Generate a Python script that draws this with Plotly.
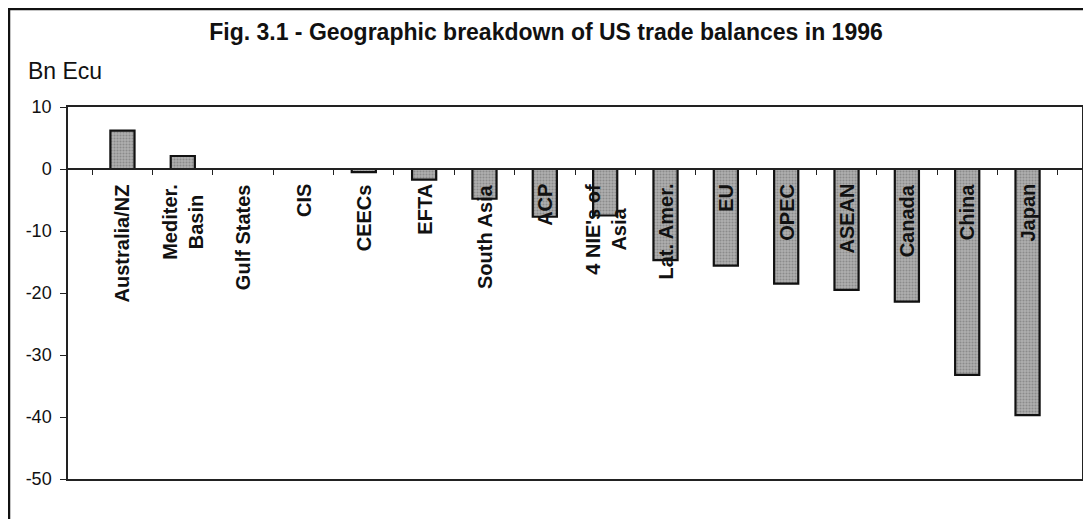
import plotly.graph_objects as go

categories = ["Australia/NZ", "Mediter.<br>Basin", "Gulf States", "CIS", "CEECs", "EFTA",
              "South Asia", "ACP", "4 NIE's of<br>Asia", "Lat. Amer.", "EU", "OPEC",
              "ASEAN", "Canada", "China", "Japan"]
values = [6.2, 2.1, 0.0, 0.0, -0.5, -1.7, -4.8, -7.7, -7.5, -14.7, -15.6, -18.5,
          -19.5, -21.4, -33.2, -39.7]
y_ticks = [10, 0, -10, -20, -30, -40, -50]
title_text = "Fig. 3.1 - Geographic breakdown of US trade balances in 1996"
y_unit = "Bn Ecu"

W, H = 1091, 519
OFF = 8  # page body margin: screen position = figure position + OFF
# plot area in screen pixels
SX0, SX1, SY0, SY1 = 68, 1082, 107, 479
L, R, T, B = SX0 - OFF, W - (SX1 - OFF), SY0 - OFF, H - (SY1 - OFF)
pw, ph = SX1 - SX0, SY1 - SY0

def px_x(p):
    return (p - SX0) / pw

def px_y(p):
    return (SY1 - p) / ph

FONT = "Liberation Sans, Arial, sans-serif"

fig = go.Figure()
fig.add_trace(go.Bar(
    x=categories, y=values, width=0.4,
    marker=dict(color="#a0a0a0", line=dict(color="#111111", width=2.2),
                pattern=dict(shape=".", fgcolor="#666666", bgcolor="#b0b0b0", size=3, solidity=0.4)),
    showlegend=False, hoverinfo="x+y",
))
# invisible trace for the frame axis (xaxis2)
fig.add_trace(go.Scatter(x=categories, y=values, xaxis="x2", mode="markers",
                         marker=dict(opacity=0), showlegend=False, hoverinfo="skip"))

annotations = []
for c in categories:
    annotations.append(dict(x=c, y=0, xref="x", yref="y", text="<b>%s</b>" % c,
                            textangle=-90, showarrow=False, yanchor="top", xanchor="center",
                            yshift=-13, align="center",
                            font=dict(family=FONT, size=20, color="#111111")))
annotations.append(dict(x=px_x(26), y=px_y(71), xref="paper", yref="paper", text=y_unit,
                        showarrow=False, xanchor="left", yanchor="middle",
                        font=dict(family=FONT, size=23, color="#111111")))

ymin, ymax = -50, 10
zero_pos = (0 - ymin) / (ymax - ymin)

fig.update_layout(
    width=W, height=H,
    margin=dict(l=L, r=R, t=T, b=B, autoexpand=False),
    paper_bgcolor="white", plot_bgcolor="white",
    title=dict(text="<b>%s</b>" % title_text, x=px_x(546), xanchor="center", xref="paper",
               y=1 - (32 - OFF) / H, yanchor="middle", yref="container", automargin=False,
               font=dict(family=FONT, size=23, color="#111111")),
    bargap=0.6,
    xaxis=dict(anchor="free", position=zero_pos, showline=True, linecolor="#222222", linewidth=1.5,
               ticks="outside", ticklen=5, tickcolor="#222222", tickson="boundaries",
               showticklabels=False, showgrid=False, zeroline=False, fixedrange=True,
               automargin=False),
    xaxis2=dict(overlaying="x", matches="x", anchor="y", side="bottom", showline=True,
                mirror=True, linecolor="#222222", linewidth=1.5, showticklabels=False,
                ticks="", showgrid=False, zeroline=False, automargin=False),
    yaxis=dict(range=[ymin, ymax], tickvals=y_ticks, ticktext=[str(v) for v in y_ticks],
               showline=True, mirror=True, linecolor="#222222", linewidth=1.5,
               ticks="outside", ticklen=6, tickcolor="#222222", showgrid=False, zeroline=False,
               ticklabelstandoff=5, automargin=False,
               tickfont=dict(family=FONT, size=18, color="#111111")),
    annotations=annotations,
    shapes=[dict(type="rect", xref="paper", yref="paper",
                 x0=px_x(OFF + 1), x1=px_x(W + 20), y0=px_y(H + 20), y1=px_y(OFF + 1),
                 line=dict(color="#111111", width=2.5), fillcolor="rgba(0,0,0,0)", layer="below")],
)

fig.write_html("out.html")
